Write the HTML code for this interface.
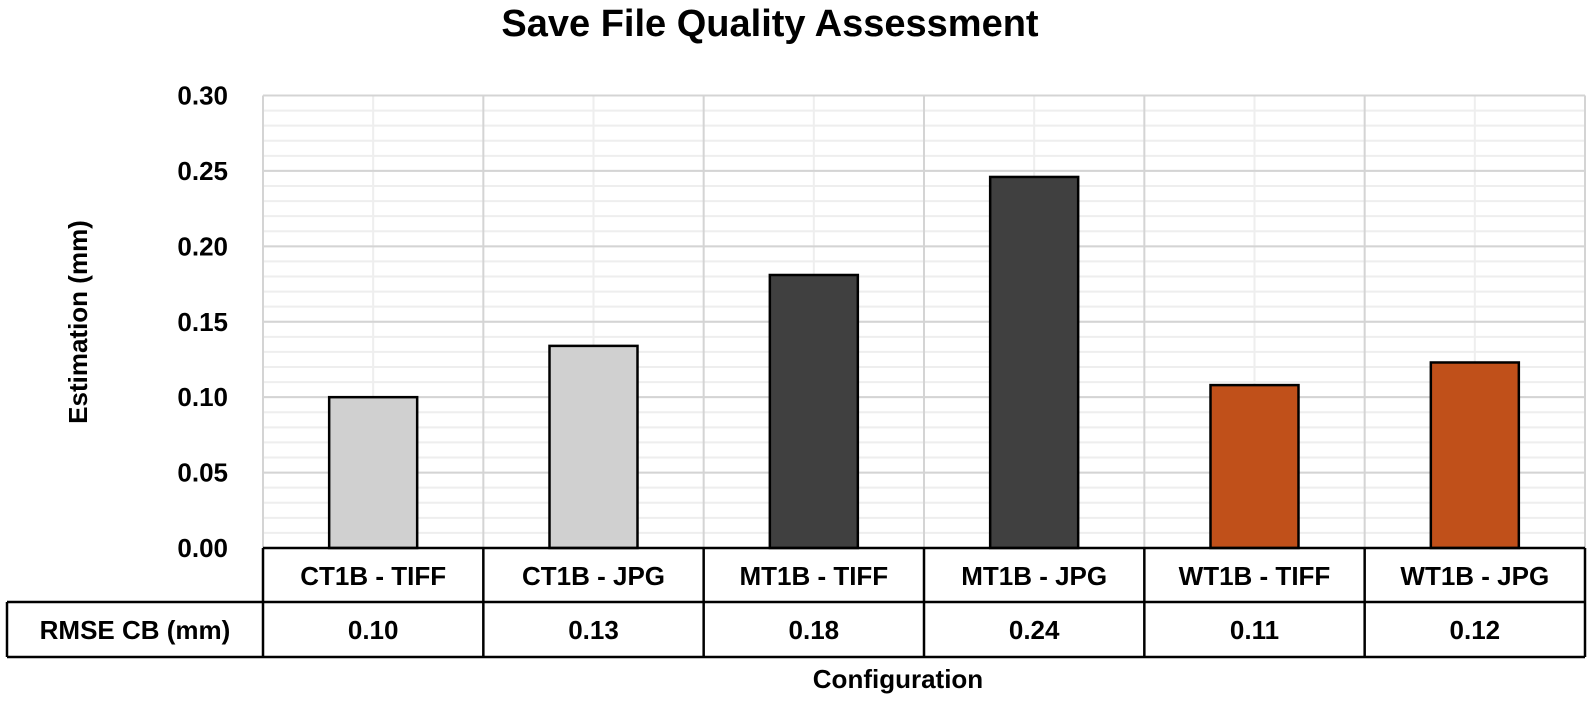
<!DOCTYPE html>
<html><head><meta charset="utf-8"><style>
body{margin:0;background:#fff;width:1587px;height:708px;overflow:hidden;font-family:"Liberation Sans",sans-serif}
svg text{font-family:"Liberation Sans",sans-serif;font-weight:bold;fill:#000}
</style></head><body>
<svg id="c" width="1587" height="708"></svg>
<script>
const categories=["CT1B - TIFF","CT1B - JPG","MT1B - TIFF","MT1B - JPG","WT1B - TIFF","WT1B - JPG"];
const values=[0.100,0.134,0.181,0.246,0.108,0.123];
const tableValues=["0.10","0.13","0.18","0.24","0.11","0.12"];
const colors=["#d0d0d0","#d0d0d0","#404040","#404040","#c0501a","#c0501a"];
const yTicks=[0,0.05,0.10,0.15,0.20,0.25,0.30];
const NS="http://www.w3.org/2000/svg";
const svg=document.getElementById('c');
const L=263,R=1585,T=95.5,B=548,yMax=0.30;
const cw=(R-L)/categories.length;
const y=v=>B-(v/yMax)*(B-T);
const x=i=>L+i*cw;
function mk(tag,a,parent){const e=document.createElementNS(NS,tag);for(const k in a)e.setAttribute(k,a[k]);(parent||svg).appendChild(e);return e;}
function txt(s,a){const e=mk('text',a);e.textContent=s;return e;}
// title
let t=txt("Save File Quality Assessment",{x:770,y:36,'text-anchor':'middle','font-size':38});


// minor grid
for(let v=0.01;v<yMax+1e-9;v+=0.01){
  const l=mk('line',{x1:L,x2:R,y1:y(v),y2:y(v),stroke:'#eeeeee','stroke-width':2});
  
  
}
for(let i=0;i<categories.length;i++){
  const l=mk('line',{x1:x(i)+cw/2,x2:x(i)+cw/2,y1:T,y2:B,stroke:'#eeeeee','stroke-width':2});
  
  
}
yTicks.forEach(v=>{
  const l=mk('line',{x1:L,x2:R,y1:y(v),y2:y(v),stroke:'#d4d4d4','stroke-width':2});
  
  
  const tl=txt(v.toFixed(2),{x:228,y:y(v)+9,'text-anchor':'end','font-size':26});
  
  
});
for(let i=0;i<=categories.length;i++){
  const l=mk('line',{x1:x(i),x2:x(i),y1:T,y2:B,stroke:'#d4d4d4','stroke-width':2});
  
  
}
// bars
const bw=88;
values.forEach((v,i)=>{
  const cx=x(i)+cw/2;
  const r=mk('rect',{x:cx-bw/2,y:y(v),width:bw,height:B-y(v),fill:colors[i],stroke:'#000','stroke-width':2.5});
  
  
});
// table
const r1=548,r2=602,r3=657;
mk('line',{x1:L,x2:R,y1:r1,y2:r1,stroke:'#000','stroke-width':2.5});
mk('line',{x1:7,x2:R,y1:r2,y2:r2,stroke:'#000','stroke-width':2.5});
mk('line',{x1:7,x2:R,y1:r3,y2:r3,stroke:'#000','stroke-width':2.5});
mk('line',{x1:7,x2:7,y1:r2,y2:r3,stroke:'#000','stroke-width':2.5});
for(let i=0;i<=categories.length;i++){
  mk('line',{x1:x(i),x2:x(i),y1:r1,y2:r3,stroke:'#000','stroke-width':2.5});
}
const lab=txt("RMSE CB (mm)",{x:135,y:r2+37,'text-anchor':'middle','font-size':26});


categories.forEach((c,i)=>{
  const cx=x(i)+cw/2;
  const a=txt(c,{x:cx,y:r1+37,'text-anchor':'middle','font-size':26});
  
  
  const b=txt(tableValues[i],{x:cx,y:r2+37,'text-anchor':'middle','font-size':26});
  
  
});
const xt=txt("Configuration",{x:898,y:688,'text-anchor':'middle','font-size':26});


const yt=txt("Estimation (mm)",{x:0,y:0,'text-anchor':'middle','font-size':26,transform:'translate(87,322) rotate(-90)'});


</script>
</body></html>
